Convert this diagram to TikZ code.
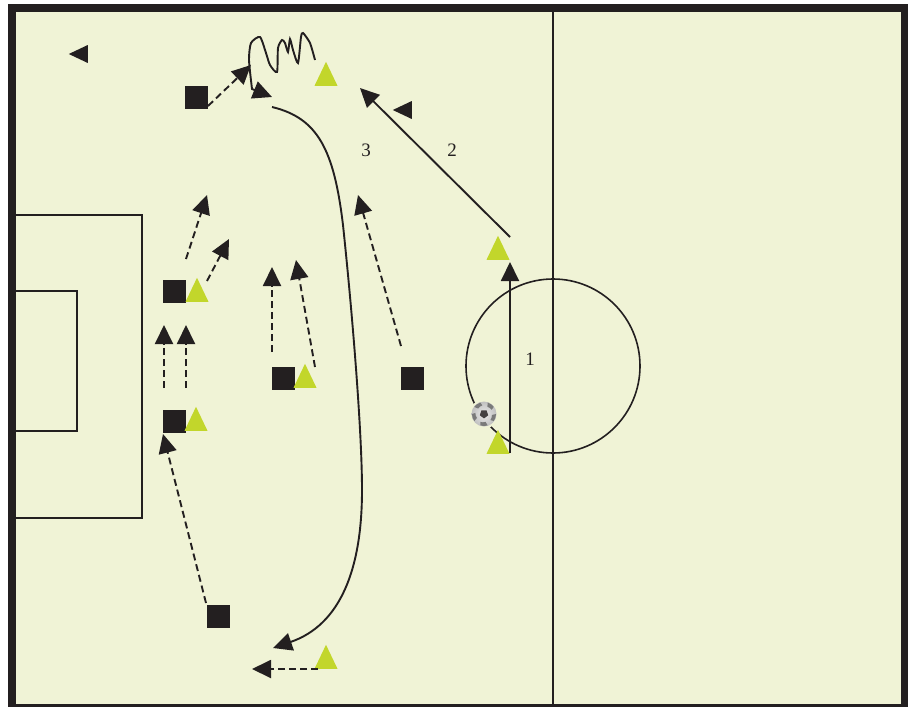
\documentclass[tikz,border=0pt]{standalone}
\usepackage{xcolor}
\usepackage{fontspec}
\setmainfont{Liberation Serif}
\usepackage{tikz}
\usetikzlibrary{shapes.geometric,arrows.meta,positioning}
\definecolor{pitch}{HTML}{F0F3D6}
\definecolor{ink}{HTML}{231F20}
\definecolor{cone}{HTML}{C2D62B}

\begin{document}
\begin{tikzpicture}[
  x=1pt, y=-1pt,
  font=\fontsize{19}{21}\selectfont,
  player/.style={fill=ink, minimum size=23pt, inner sep=0pt},
  defender/.style={isosceles triangle, isosceles triangle stretches, shape border rotate=90,
                   anchor=lower side, fill=cone, minimum width=23pt, minimum height=24pt, inner sep=0pt},
  marker/.style={isosceles triangle, isosceles triangle stretches, shape border rotate=180,
                 anchor=lower side, fill=ink, minimum width=18pt, minimum height=19pt, inner sep=0pt},
  ar/.style={-{Triangle[length=19pt,width=18pt]}, ink, line width=1.9pt},
  run/.style={ar, dash pattern=on 7pt off 4pt},
  markings/.style={ink, line width=1.6pt},
  num/.style={text=ink, inner sep=0pt}
]
\useasboundingbox (0,0) rectangle (908,707);
% pitch
\fill[ink] (7.5,4) rectangle (908,707);
\fill[pitch] (15.5,12) rectangle (901,703.5);
\draw[markings] (553,12) -- (553,703.5);
\draw[markings] (15.5,215) -- (142,215) -- (142,518) -- (15.5,518);
\draw[markings] (15.5,291) -- (77,291) -- (77,431) -- (15.5,431);
\node[markings, draw, circle, minimum size=174pt, inner sep=0pt] (centre) at (553,366) {};

% players
\node[player] (p1) at (196,97)  {};
\node[player] (p2) at (174,291) {};
\node[player] (p3) at (174,421) {};
\node[player] (p4) at (283,378) {};
\node[player] (p5) at (412,378) {};
\node[player] (p6) at (218,616) {};

% defenders
\node[defender] (d1) at (326,86)  {};
\node[defender] (d2) at (498,260) {};
\node[defender] (d3) at (197,302) {};
\node[defender] (d4) at (196,431) {};
\node[defender] (d5) at (305,388) {};
\node[defender] (d6) at (498,454) {};
\node[defender] (d7) at (326,669) {};

\node[marker] (m1) at (88,54)   {};
\node[marker] (m2) at (412,110) {};

% ball
\node[circle, fill=pitch, minimum size=29pt, inner sep=0pt] (halo) at (484,414) {};
\node[circle, inner color=white!92!black, outer color=black!25, minimum size=25pt, inner sep=0pt] (ball) at (484,414) {};
\fill[ink!85] (ball.center) ++(90:4.4) -- ++(-36:5.2) -- ++(-108:5.2) -- ++(-180:5.2) -- ++(-252:5.2) -- cycle;
\foreach \a in {90,162,234,306,18}
  \fill[black!52] (ball.center) ++(\a-18:12) arc[start angle=\a-18, end angle=\a+18, radius=12] -- ++(\a+180:3.5) arc[start angle=\a+18, end angle=\a-18, radius=8.5] -- cycle;

% free ends
\foreach \n/\p in {e1/{510,262}, e2/{360,88}, s1/{510,453}, s2/{510,237}, r1a/{208,106}, r1b/{251,65},
    r2a/{206,603}, r2b/{163,434}, r3a/{164,388}, r3b/{164,325}, r4a/{186,388}, r4b/{186,325},
    r5a/{186,259}, r5b/{207,195}, r6a/{207,281}, r6b/{229,239}, r7a/{272,352}, r7b/{272,267},
    r8a/{315,367}, r8b/{296,260}, r9a/{401,346}, r9b/{358,195}, r10a/{318,669}, r10b/{252,669},
    c1/{272,107}, c2/{273,648}, z1/{315,60}, z2/{272,97}}
  \coordinate (\n) at (\p);

% passes
\draw[ar] (s1) -- (e1);
\draw[ar] (s2) -- (e2);
\draw[ar] (c1) .. controls (318,118) and (334,150) .. (343,225)
  .. controls (352,310) and (362,430) .. (362,490)
  .. controls (362,570) and (340,625) .. (c2);

% runs
\foreach \a/\b in {r1a/r1b, r2a/r2b, r3a/r3b, r4a/r4b, r5a/r5b, r6a/r6b, r7a/r7b, r8a/r8b, r9a/r9b, r10a/r10b}
  \draw[run] (\a) -- (\b);

% dribble
\draw[ar] plot[smooth, tension=0.4] coordinates {(z1) (310,43) (303,33) (301,37) (298,63) (293,50) (290,39) (288,52) (285,43) (282,40) (278,48)
  (277,72) (270,65) (266,53) (260,37) (251,43) (249,60) (252,89)} -- (z2);

\node[num] (n1) at (530,359) {1};
\node[num] (n2) at (452,150) {2};
\node[num] (n3) at (366,150) {3};
\end{tikzpicture}
\end{document}
